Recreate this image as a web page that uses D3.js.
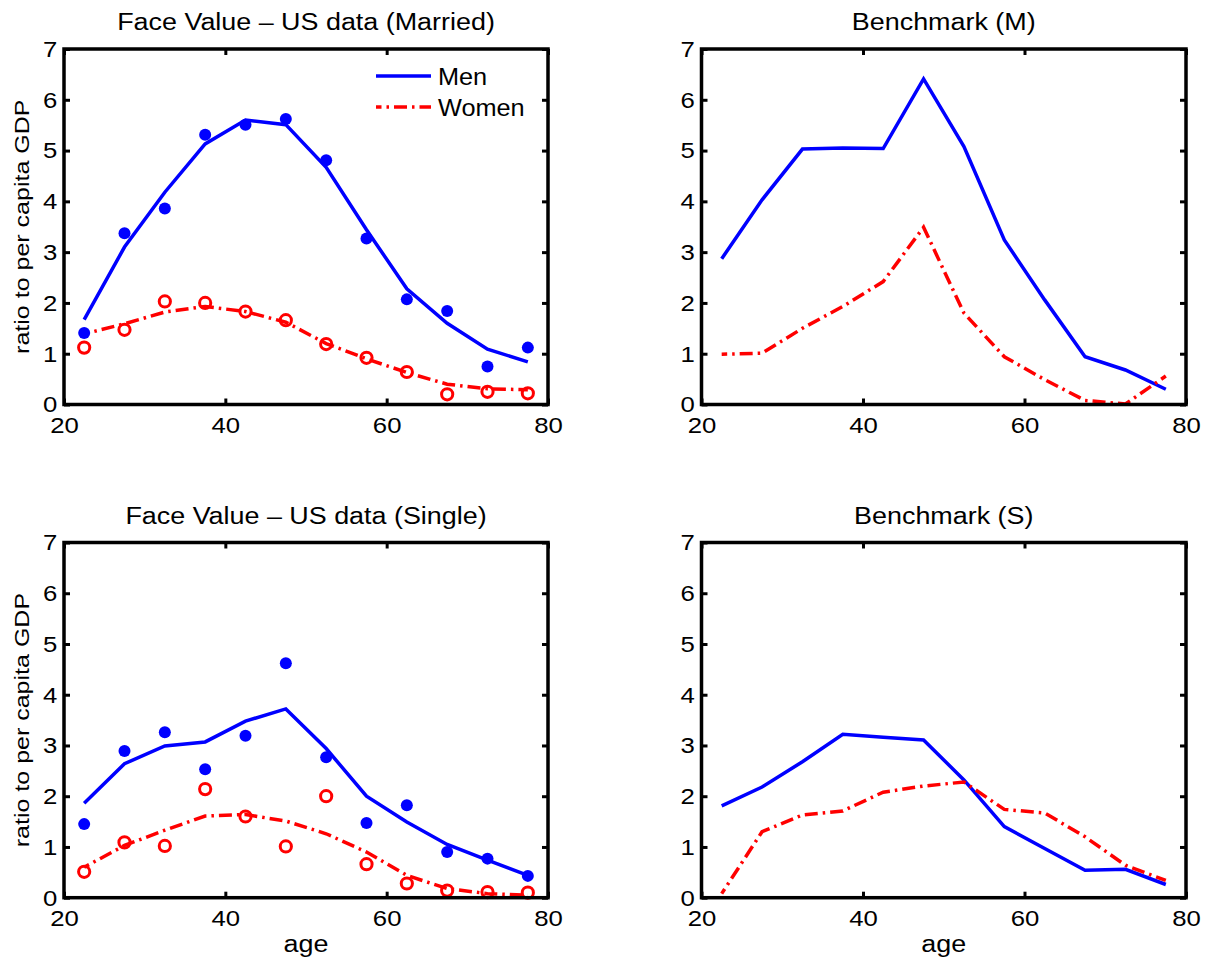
<!DOCTYPE html>
<html>
<head>
<meta charset="utf-8">
<script src="https://cdn.jsdelivr.net/npm/d3@7"></script>
<style>
  body { margin: 0; background: #fff; }
  text { font-family: "Liberation Sans", Arial, Helvetica, sans-serif; fill: #000; }
</style>
</head>
<body>
<svg id="chart" width="1217" height="973"></svg>
<script>
// Age groups (mid-points of 5-year bins)
const ages = [22.5, 27.5, 32.5, 37.5, 42.5, 47.5, 52.5, 57.5, 62.5, 67.5, 72.5, 77.5];
const xTicks = [20, 40, 60, 80];
const yTicks = [0, 1, 2, 3, 4, 5, 6, 7];

// Married, US data: fitted profiles (lines) and raw observations (markers)
const marriedMenFit     = [1.67, 3.10, 4.18, 5.13, 5.60, 5.51, 4.67, 3.44, 2.28, 1.60, 1.09, 0.84];
const marriedMenData    = [1.41, 3.37, 3.86, 5.31, 5.51, 5.62, 4.81, 3.27, 2.07, 1.84, 0.75, 1.12];
const marriedWomenFit   = [1.39, 1.59, 1.82, 1.93, 1.83, 1.62, 1.20, 0.90, 0.63, 0.40, 0.31, 0.29];
const marriedWomenData  = [1.12, 1.47, 2.03, 2.00, 1.83, 1.66, 1.19, 0.92, 0.64, 0.20, 0.25, 0.22];

// Benchmark model, married
const benchMMen   = [2.87, 4.03, 5.03, 5.05, 5.04, 6.41, 5.08, 3.24, 2.06, 0.94, 0.68, 0.30];
const benchMWomen = [0.99, 1.01, 1.50, 1.93, 2.42, 3.49, 1.80, 0.94, 0.49, 0.08, 0.01, 0.56];

// Single, US data
const singleMenFit    = [1.86, 2.64, 2.99, 3.07, 3.48, 3.72, 2.94, 2.00, 1.49, 1.05, 0.74, 0.44];
const singleMenData   = [1.45, 2.89, 3.26, 2.53, 3.19, 4.62, 2.77, 1.47, 1.82, 0.90, 0.77, 0.43];
const singleWomenFit  = [0.60, 1.03, 1.33, 1.61, 1.64, 1.51, 1.26, 0.90, 0.44, 0.18, 0.08, 0.05];
const singleWomenData = [0.51, 1.09, 1.02, 2.14, 1.60, 1.01, 2.00, 0.66, 0.28, 0.14, 0.11, 0.10];

// Benchmark model, single
const benchSMen   = [1.81, 2.18, 2.68, 3.22, 3.16, 3.11, 2.32, 1.40, 0.97, 0.54, 0.56, 0.26];
const benchSWomen = [0.08, 1.30, 1.63, 1.71, 2.08, 2.20, 2.28, 1.74, 1.67, 1.20, 0.64, 0.34];

const panelTitles = ["Face Value \u2013 US data (Married)", "Benchmark (M)",
                     "Face Value \u2013 US data (Single)", "Benchmark (S)"];
const seriesNames = ["Men", "Women"];
const yLabel = "ratio to per capita GDP";
const xLabel = "age";

// ---- layout ----
const BLUE = "#0000ff", RED = "#ff0000";
const FONT = 23;            // px, titles / ticks / legend / x label
const YLAB_FONT = 20.5;     // px, rotated y label
const SX = 1.17;            // glyph widening of titles and x label
const SX_TICK = 1.12, SX_LEG = 1.1, SX_YLAB = 1.22;
const FRAME_W = 3.5, LINE_W = 3.5;
const DASHDOT = "13,5,2.5,5";

const panels = [
  { x0: 64,    x1: 548,  y0: 49,    y1: 404.5, title: panelTitles[0],
    men: marriedMenFit, women: marriedWomenFit, menPts: marriedMenData, womenPts: marriedWomenData,
    legend: true, ylab: true, xlab: false },
  { x0: 701.5, x1: 1186, y0: 49,    y1: 404.5, title: panelTitles[1],
    men: benchMMen, women: benchMWomen, legend: false, ylab: false, xlab: false },
  { x0: 64,    x1: 548,  y0: 542.5, y1: 897.7, title: panelTitles[2],
    men: singleMenFit, women: singleWomenFit, menPts: singleMenData, womenPts: singleWomenData,
    legend: false, ylab: true, xlab: true },
  { x0: 701.5, x1: 1186, y0: 542.5, y1: 897.7, title: panelTitles[3],
    men: benchSMen, women: benchSWomen, legend: false, ylab: false, xlab: true }
];

const svg = d3.select("#chart");

function label(g, x, y, str, anchor, opts = {}) {
  const size = opts.size || FONT;
  const sx = opts.sx || SX;
  return g.append("text")
    .attr("transform", `translate(${x},${y})` + (opts.rotate ? ` rotate(${opts.rotate})` : "") + ` scale(${sx},1)`)
    .attr("text-anchor", anchor)
    .style("font-size", size + "px")
    .text(str);
}

panels.forEach(p => {
  const x = d3.scaleLinear().domain([20, 80]).range([p.x0, p.x1]);
  const y = d3.scaleLinear().domain([0, 7]).range([p.y1, p.y0]);
  const g = svg.append("g");

  // profile lines
  const line = vals => d3.line().x((d, i) => x(ages[i])).y(d => y(d))(vals);
  g.append("path").attr("d", line(p.men))
    .attr("fill", "none").attr("stroke", BLUE).attr("stroke-width", LINE_W)
    .attr("stroke-linejoin", "miter");
  g.append("path").attr("d", line(p.women))
    .attr("fill", "none").attr("stroke", RED).attr("stroke-width", LINE_W)
    .attr("stroke-dasharray", DASHDOT).attr("stroke-dashoffset", 7.5);

  // observation markers
  if (p.menPts) {
    g.selectAll(".dot").data(p.menPts).join("circle")
      .attr("cx", (d, i) => x(ages[i])).attr("cy", d => y(d))
      .attr("r", 6).attr("fill", BLUE);
  }
  if (p.womenPts) {
    g.selectAll(".ring").data(p.womenPts).join("circle")
      .attr("cx", (d, i) => x(ages[i])).attr("cy", d => y(d))
      .attr("r", 5.6).attr("fill", "none").attr("stroke", RED).attr("stroke-width", 3);
  }

  // axes: inward ticks on all four sides
  const tickLen = -6;
  const fmt = d3.format("d");
  const styleAxis = sel => {
    sel.select(".domain").remove();
    sel.selectAll(".tick line").attr("stroke", "#000").attr("stroke-width", 3);
    sel.selectAll(".tick text").attr("fill", "#000")
      .style("font-size", FONT + "px").style("font-family", null);
  };
  const bottom = g.append("g").attr("transform", `translate(0,${p.y1})`)
    .call(d3.axisBottom(x).tickValues(xTicks).tickFormat(fmt).tickSizeInner(tickLen).tickSizeOuter(0).tickPadding(12))
    .call(styleAxis);
  bottom.selectAll(".tick text").attr("transform", `scale(${SX_TICK},1)`);
  g.append("g").attr("transform", `translate(0,${p.y0})`)
    .call(d3.axisTop(x).tickValues(xTicks).tickSizeInner(tickLen).tickSizeOuter(0).tickFormat(""))
    .call(styleAxis);
  const left = g.append("g").attr("transform", `translate(${p.x0},0)`)
    .call(d3.axisLeft(y).tickValues(yTicks).tickFormat(fmt).tickSizeInner(tickLen).tickSizeOuter(0).tickPadding(6))
    .call(styleAxis);
  left.selectAll(".tick text").attr("transform", `scale(${SX_TICK},1)`);
  g.append("g").attr("transform", `translate(${p.x1},0)`)
    .call(d3.axisRight(y).tickValues(yTicks).tickSizeInner(tickLen).tickSizeOuter(0).tickFormat(""))
    .call(styleAxis);

  // frame
  g.append("rect").attr("x", p.x0).attr("y", p.y0)
    .attr("width", p.x1 - p.x0).attr("height", p.y1 - p.y0)
    .attr("fill", "none").attr("stroke", "#000").attr("stroke-width", FRAME_W);

  // title
  label(g, (p.x0 + p.x1) / 2, p.y0 - 19, p.title, "middle");

  // axis labels
  if (p.ylab) label(g, p.x0 - 35.5, (p.y0 + p.y1) / 2, yLabel, "middle",
                    { size: YLAB_FONT, sx: SX_YLAB, rotate: -90 });
  if (p.xlab) label(g, (p.x0 + p.x1) / 2, p.y1 + 54, xLabel, "middle");

  // legend
  if (p.legend) {
    const lx0 = p.x1 - 172, lx1 = p.x1 - 117, tx = p.x1 - 110;
    const ly = [p.y0 + 27, p.y0 + 58];
    g.append("line").attr("x1", lx0).attr("x2", lx1).attr("y1", ly[0]).attr("y2", ly[0])
      .attr("stroke", BLUE).attr("stroke-width", LINE_W);
    g.append("line").attr("x1", lx0).attr("x2", lx1).attr("y1", ly[1]).attr("y2", ly[1])
      .attr("stroke", RED).attr("stroke-width", LINE_W)
      .attr("stroke-dasharray", DASHDOT).attr("stroke-dashoffset", 7.5);
    seriesNames.forEach((n, i) => label(g, tx, ly[i] + 8.5, n, "start", { sx: SX_LEG }));
  }
});
</script>
</body>
</html>
